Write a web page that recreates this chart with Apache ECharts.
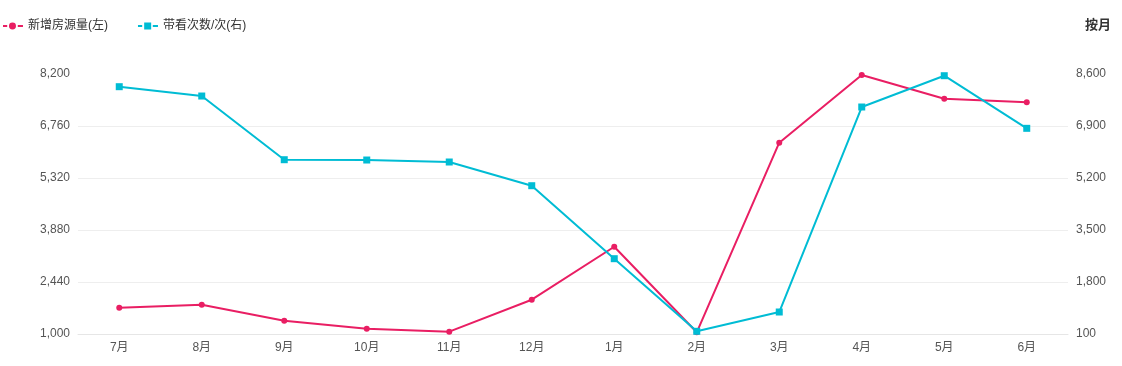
<!DOCTYPE html>
<html><head><meta charset="utf-8">
<script src="https://cdn.jsdelivr.net/npm/echarts@6/dist/echarts.min.js"></script>
<style>html,body{margin:0;padding:0;background:#fff}#c{width:1122px;height:366px}</style>
</head><body><div id="c"></div>
<script>
const categories = ['7月','8月','9月','10月','11月','12月','1月','2月','3月','4月','5月','6月'];
const listings = [1728,1811,1368,1147,1064,1950,3417,1047,6297,8172,7516,7416];
const viewings = [8185,7880,5798,5788,5723,4948,2562,188,819,7521,8544,6824];
const leftTicks = {min:1000, max:8200, interval:1440};
const rightTicks = {min:100, max:8600, interval:1700};
const ff = '"Liberation Sans", "Noto Sans CJK SC", sans-serif';
const chart = echarts.init(document.getElementById('c'));
const splitColors = ['#eeeeee','#eeeeee','#eeeeee','#eeeeee','#eeeeee','rgba(0,0,0,0)'];
const iconCircle = 'path://M0,4.1h4.2v1.8h-4.2z M6,5a3.5,3.5 0 1,0 7,0a3.5,3.5 0 1,0 -7,0z M14.8,4.1h5.2v1.8h-5.2z M0,1.5h0.01v0.01z M0,8.5h0.01v0.01z';
const iconRect = 'path://M0,4.1h4.2v1.8h-4.2z M6.2,1.5h7v7h-7z M14.8,4.1h5.2v1.8h-5.2z';
chart.setOption({
  animation:false,
  textStyle:{fontFamily:ff},
  title:{text:'按月', right:6, top:14, textStyle:{fontSize:13, fontWeight:'bold', color:'#333', fontFamily:ff}},
  legend:{left:-2, top:15, itemWidth:20, itemHeight:7, itemGap:30,
    textStyle:{fontSize:12, color:'#333', fontFamily:ff, padding:[0,0,0,0]},
    data:[{name:'新增房源量(左)', icon:iconCircle},{name:'带看次数/次(右)', icon:iconRect}]},
  grid:{left:78, right:54, top:74, bottom:32},
  xAxis:{type:'category', data:categories, boundaryGap:true,
    axisLine:{lineStyle:{color:'#e6e6e6'}},
    axisTick:{lineStyle:{color:'#e6e6e6'}, length:4},
    axisLabel:{color:'#555', fontSize:12, margin:8}},
  yAxis:[
    {type:'value', min:leftTicks.min, max:leftTicks.max, interval:leftTicks.interval, position:'left',
     axisLine:{show:false}, axisTick:{show:false},
     axisLabel:{color:'#555', fontSize:12, margin:8},
     splitLine:{lineStyle:{color:splitColors}}},
    {type:'value', min:rightTicks.min, max:rightTicks.max, interval:rightTicks.interval, position:'right',
     axisLine:{show:false}, axisTick:{show:false},
     axisLabel:{color:'#555', fontSize:12, margin:8},
     splitLine:{show:false}}
  ],
  series:[
    {name:'新增房源量(左)', type:'line', yAxisIndex:0, data:listings,
     symbol:'circle', symbolSize:6, showAllSymbol:true,
     itemStyle:{color:'#e91e63'}, lineStyle:{width:2, color:'#e91e63'}},
    {name:'带看次数/次(右)', type:'line', yAxisIndex:1, data:viewings,
     symbol:'rect', symbolSize:7, showAllSymbol:true,
     itemStyle:{color:'#00bcd4'}, lineStyle:{width:2, color:'#00bcd4'}}
  ]
});
</script></body></html>
